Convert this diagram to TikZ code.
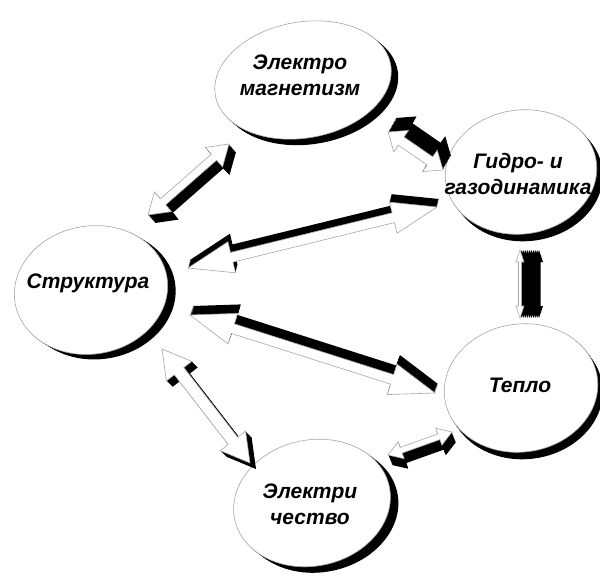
\documentclass[tikz,border=0pt]{standalone}
\usepackage{fontspec}
\setmainfont{Liberation Sans}
\usetikzlibrary{calc,shapes.geometric}
\tikzset{
  ellface/.style={ellipse, draw=gray!70, line width=0.6pt, fill=white, inner sep=0pt},
  ellshade/.style={ellipse, fill=black, inner sep=0pt},
  lbl/.style={font=\fontsize{21}{26}\selectfont\bfseries\itshape, align=center, inner sep=0pt},
  arrface/.style={fill=white, draw=gray!70, line width=0.6pt, line join=miter},
  arrshade/.style={fill=black},
}
% ellipse with extruded black shadow: centre coordinate, width, height, tilt, dx, dy
\newcommand\ellnode[6]{%
  \foreach \k in {1,...,8}{\node[ellshade, rotate=#4, minimum width=#2pt, minimum height=#3pt] at ($(#1)+({\k*(#5)/8},{\k*(#6)/8})$) {};}
  \node[ellface, rotate=#4, minimum width=#2pt, minimum height=#3pt] (#1-e) at (#1) {};
}
% polygon of a double arrow (uses \p1, \p2, \n1): shaft half width, head half width, head length
\newcommand\arrpath[3]{(\p1) -- ($(\p1)+(\n1:#3pt)+(\n1+90:#2pt)$) -- ($(\p1)+(\n1:#3pt)+(\n1+90:#1pt)$)
  -- ($(\p2)+(\n1:-#3pt)+(\n1+90:#1pt)$) -- ($(\p2)+(\n1:-#3pt)+(\n1+90:#2pt)$) -- (\p2)
  -- ($(\p2)+(\n1:-#3pt)+(\n1-90:#2pt)$) -- ($(\p2)+(\n1:-#3pt)+(\n1-90:#1pt)$)
  -- ($(\p1)+(\n1:#3pt)+(\n1-90:#1pt)$) -- ($(\p1)+(\n1:#3pt)+(\n1-90:#2pt)$) -- cycle}
% 3D double arrow from A to B: A, B, dx, dy, shaft hw, head hw, head length
\newcommand\darr[7]{%
  \foreach \k in {1,...,10}{%
    \path[arrshade] let \p1=($(#1)+({\k*(#3)/10},{\k*(#4)/10})$), \p2=($(#2)+({\k*(#3)/10},{\k*(#4)/10})$),
      \n1={atan2(\y2-\y1,\x2-\x1)} in \arrpath{#5}{#6}{#7};}
  \path[arrface] let \p1=(#1), \p2=(#2), \n1={atan2(\y2-\y1,\x2-\x1)} in \arrpath{#5}{#6}{#7};
}
\begin{document}
\begin{tikzpicture}[x=1pt,y=-1pt]
\fill[white] (0,0) rectangle (600,576);
\useasboundingbox (0,0) rectangle (600,576);
% ellipse centres
\coordinate (cEM) at (303,80);
\coordinate (cGD) at (521,172);
\coordinate (cS) at (91,290);
\coordinate (cT) at (521,388);
\coordinate (cE) at (312,503);
\ellnode{cEM}{178}{116}{10}{7}{6}
\ellnode{cGD}{152}{124}{8}{6}{7}
\ellnode{cS}{154}{128}{10}{8}{5}
\ellnode{cT}{154}{128}{8}{5}{7}
\ellnode{cE}{158}{126}{12}{8}{6}
% arrow end points
\coordinate (s-em) at (148,215);  \coordinate (em-s) at (229,144);
\coordinate (em-gd) at (388,132); \coordinate (gd-em) at (443,170);
\coordinate (s-gd) at (188,268);  \coordinate (gd-s) at (437,207);
\coordinate (gd-t) at (520,250);  \coordinate (t-gd) at (520,318);
\coordinate (s-t) at (190,315);   \coordinate (t-s) at (435,393);
\coordinate (s-e) at (162,349);   \coordinate (e-s) at (250,463);
\coordinate (e-t) at (388,455);   \coordinate (t-e) at (452,432);
% arrows
\darr{s-em}{em-s}{7}{8}{4}{13}{20}
\darr{em-gd}{gd-em}{8}{-14}{5}{13}{16}
\darr{s-gd}{gd-s}{2}{-8}{5}{16}{45}
\darr{gd-t}{t-gd}{19}{0}{1.5}{4}{12}
\darr{s-t}{t-s}{3}{-9}{5}{16}{45}
\darr{s-e}{e-s}{6}{6}{6}{16}{28}
\darr{e-t}{t-e}{4}{10}{3}{9}{14}
% labels
\node[lbl] (EM) at (300,75) {Электро\\магнетизм};
\node[lbl] (GD) at (518,174) {Гидро- и\\газодинамика};
\node[lbl] (S) at (88,283) {Структура};
\node[lbl] (T) at (520,385) {Тепло};
\node[lbl] (E) at (310,504) {Электри\\чество};
\end{tikzpicture}
\end{document}
